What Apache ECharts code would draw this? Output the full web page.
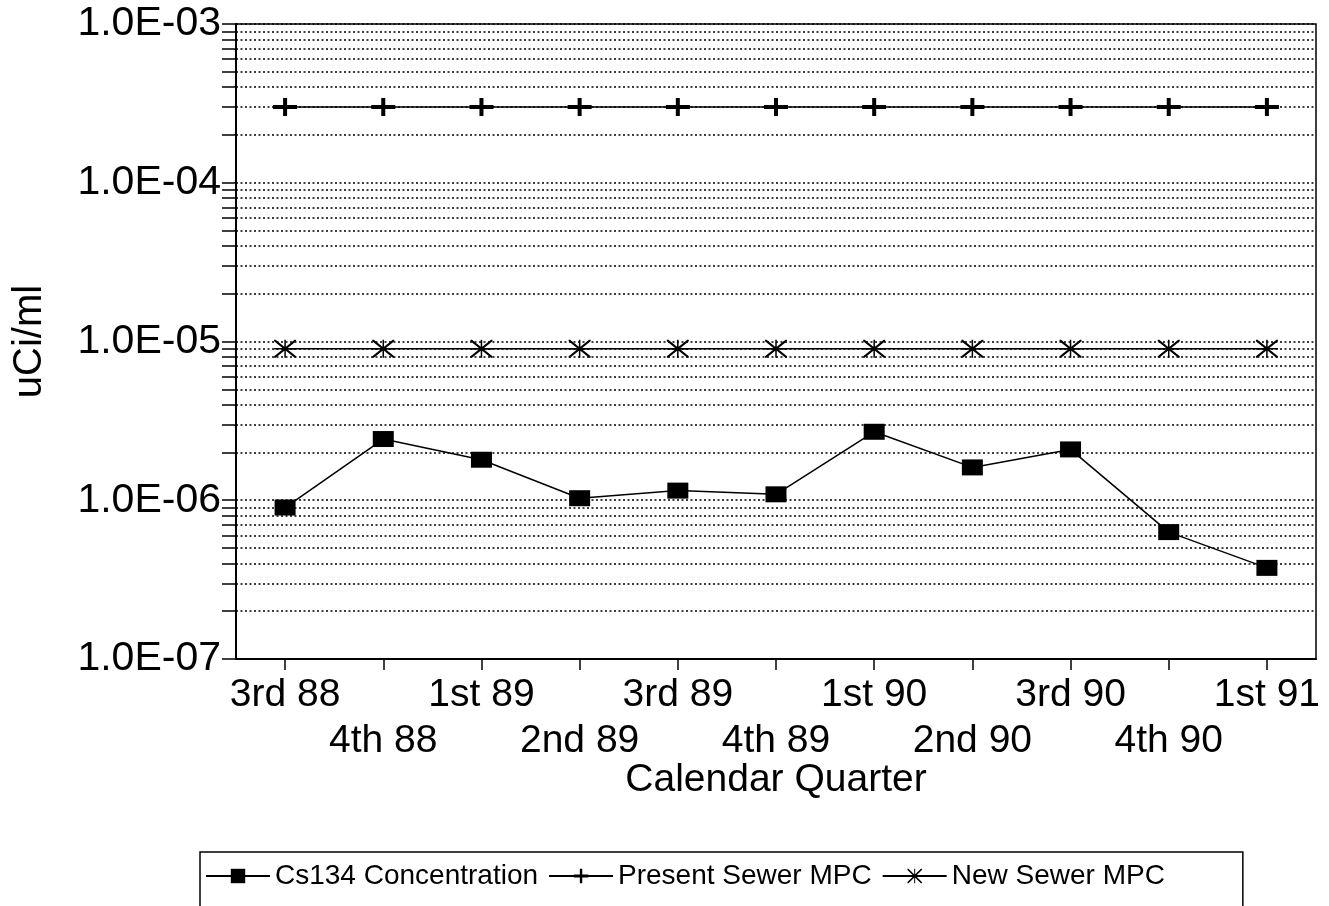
<!DOCTYPE html>
<html>
<head>
<meta charset="utf-8">
<script src="https://cdn.jsdelivr.net/npm/echarts@6/dist/echarts.min.js"></script>
<style>
  html, body { margin: 0; padding: 0; background: #fff; }
  #chart { width: 1329px; height: 906px; }
</style>
</head>
<body>
<div id="chart"></div>
<script>
// Quarterly sewer release data (uCi/ml)
const quarters = ['3rd 88', '4th 88', '1st 89', '2nd 89', '3rd 89', '4th 89', '1st 90', '2nd 90', '3rd 90', '4th 90', '1st 91'];
const cs134 = [9.0e-7, 2.43e-6, 1.8e-6, 1.03e-6, 1.15e-6, 1.09e-6, 2.7e-6, 1.61e-6, 2.09e-6, 6.3e-7, 3.75e-7];
const presentMpc = [3e-4, 3e-4, 3e-4, 3e-4, 3e-4, 3e-4, 3e-4, 3e-4, 3e-4, 3e-4, 3e-4];
const newMpc = [9e-6, 9e-6, 9e-6, 9e-6, 9e-6, 9e-6, 9e-6, 9e-6, 9e-6, 9e-6, 9e-6];

// Decade labels on the log axis
const decadeValues = [1e-7, 1e-6, 1e-5, 1e-4, 1e-3];
const decadeLabels = ['1.0E-07', '1.0E-06', '1.0E-05', '1.0E-04', '1.0E-03'];
// Minor multipliers within each decade
const minorSteps = [1, 2, 3, 4, 5, 6, 7, 8, 9];

// Tick / grid positions: every 1..9 x 10^k inside the range
const gridValues = [];
decadeValues.forEach(function (d, i) {
  if (i === decadeValues.length - 1) { gridValues.push(d); return; }
  minorSteps.forEach(function (m) { gridValues.push(parseFloat((m * d).toPrecision(3))); });
});

const FONT = '"Liberation Sans", Arial, Helvetica, sans-serif';

// Plus and asterisk markers
const plusPath = 'path://M0,7 H10 V0 H14 V7 H24 V11 H14 V18 H10 V11 H0 Z';
const starPath = 'path://M0,8.25 H22 V9.75 H0 Z M10.25,0 H11.75 V18 H10.25 Z ' +
  'M0,0 L1.5,0 L22,16.5 L22,18 L20.5,18 L0,1.5 Z ' +
  'M22,0 L22,1.5 L1.5,18 L0,18 L0,16.5 L20.5,0 Z';

function decadeLabel(v) {
  let best = 0, bestDiff = Infinity;
  decadeValues.forEach(function (d, i) {
    const diff = Math.abs(Math.log10(v) - Math.log10(d));
    if (diff < bestDiff) { bestDiff = diff; best = i; }
  });
  return decadeLabels[best];
}

const chart = echarts.init(document.getElementById('chart'), null, { renderer: 'canvas' });

chart.setOption({
  backgroundColor: '#fff',
  animation: false,
  textStyle: { fontFamily: FONT, color: '#000' },
  grid: {
    left: 236, right: 13, top: 24, bottom: 247,
    show: true, borderColor: '#000', borderWidth: 1.5,
    containLabel: false, outerBoundsMode: 'none'
  },
  legend: {
    left: 200, top: 852,
    padding: [10, 78, 40, 5],
    borderColor: '#000', borderWidth: 1.5,
    itemWidth: 64, itemHeight: 18, itemGap: 10,
    textStyle: { fontFamily: FONT, fontSize: 28, color: '#000' },
    data: ['Cs134 Concentration', 'Present Sewer MPC', 'New Sewer MPC']
  },
  xAxis: {
    type: 'category',
    data: quarters,
    boundaryGap: true,
    name: 'Calendar Quarter',
    nameLocation: 'middle',
    nameGap: 101,
    nameMoveOverlap: false,
    nameTextStyle: { fontFamily: FONT, fontSize: 39, color: '#000', lineHeight: 40 },
    axisLine: { lineStyle: { color: '#000', width: 2 } },
    axisTick: { show: true, alignWithLabel: true, interval: 0, length: 11, lineStyle: { color: '#000', width: 1.5 } },
    axisLabel: {
      interval: 0, margin: 13,
      fontFamily: FONT, fontSize: 39, color: '#000', lineHeight: 46,
      formatter: function (v, i) { return i % 2 ? '\n' + v : v; }
    },
    splitLine: { show: false }
  },
  yAxis: {
    type: 'log',
    logBase: 10,
    min: 1e-7,
    max: 1e-3,
    name: 'uCi/ml',
    nameLocation: 'middle',
    nameGap: 186,
    nameRotate: 90,
    nameTextStyle: { fontFamily: FONT, fontSize: 40, color: '#000' },
    axisLine: { show: true, lineStyle: { color: '#000', width: 2 } },
    axisTick: {
      show: true, inside: false, length: 14,
      customValues: gridValues,
      lineStyle: { color: '#000', width: 1.5 }
    },
    axisLabel: {
      margin: 15,
      customValues: decadeValues,
      fontFamily: FONT, fontSize: 41, color: '#000',
      formatter: function (v) { return decadeLabel(v); }
    },
    splitLine: {
      show: true,
      lineStyle: { color: '#000', width: 1.5, type: [2, 2.5] }
    }
  },
  series: [
    {
      name: 'Cs134 Concentration',
      type: 'line',
      data: cs134,
      symbol: 'rect',
      symbolSize: [21, 16],
      itemStyle: { color: '#000' },
      lineStyle: { color: '#000', width: 1.5 },
      z: 5
    },
    {
      name: 'Present Sewer MPC',
      type: 'line',
      data: presentMpc,
      symbol: plusPath,
      symbolSize: [24, 18],
      itemStyle: { color: '#000' },
      lineStyle: { color: '#000', width: 1.5 },
      z: 5
    },
    {
      name: 'New Sewer MPC',
      type: 'line',
      data: newMpc,
      symbol: starPath,
      symbolSize: [22, 18],
      itemStyle: { color: '#000' },
      lineStyle: { color: '#000', width: 1.5 },
      z: 5
    }
  ]
});
</script>
</body>
</html>
